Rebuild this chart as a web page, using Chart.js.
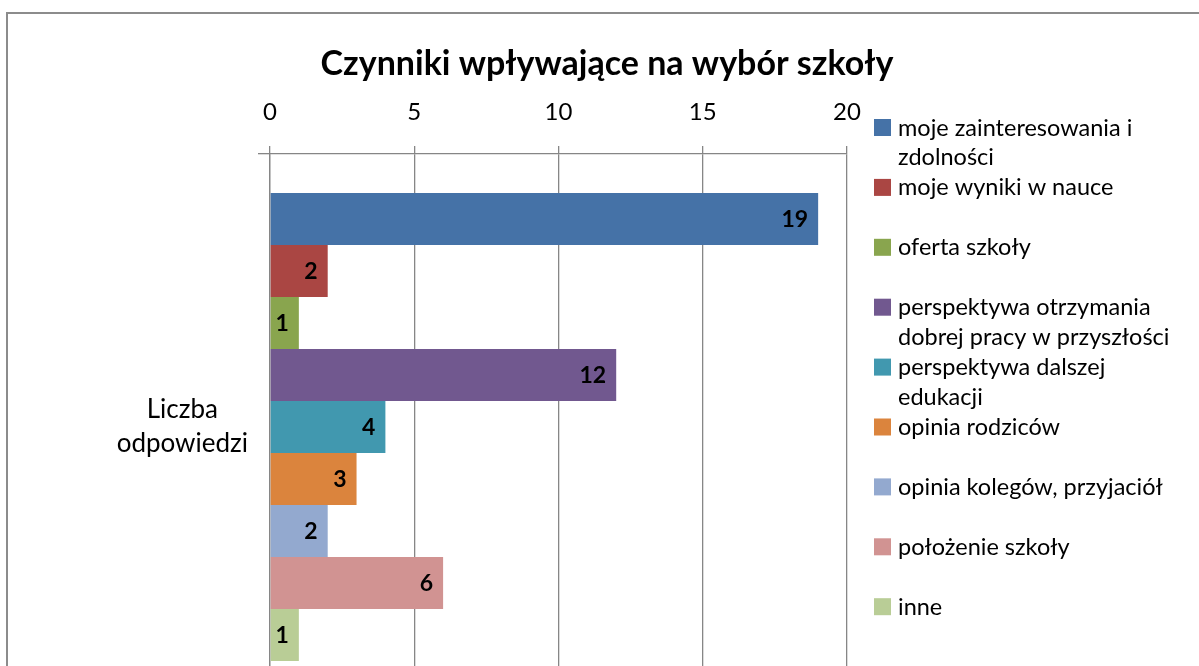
<!DOCTYPE html>
<html lang="pl">
<head>
<meta charset="utf-8">
<script src="https://cdn.jsdelivr.net/npm/chart.js@4"></script>
<style>
  html, body { margin: 0; padding: 0; background: #fff; overflow: hidden; }
  #frame {
    position: absolute; left: 6px; top: 12px;
    width: 1300px; height: 800px;
    border-top: 2px solid #8c8c8c; border-left: 2px solid #8c8c8c;
  }
  #chart { position: absolute; left: 0; top: 0; }
</style>
</head>
<body>
<div id="frame"></div>
<canvas id="chart" width="1199" height="720"></canvas>
<script>
  // dane z wykresu
  const categories = [['Liczba', 'odpowiedzi']];
  const seriesNames = [
    'moje zainteresowania i\nzdolności',
    'moje wyniki w nauce',
    'oferta szkoły',
    'perspektywa otrzymania\ndobrej pracy w przyszłości',
    'perspektywa dalszej\nedukacji',
    'opinia rodziców',
    'opinia kolegów, przyjaciół',
    'położenie szkoły',
    'inne'
  ];
  const seriesValues = [19, 2, 1, 12, 4, 3, 2, 6, 1];
  const seriesColors = ['#4572A7', '#AA4643', '#89A54E', '#71588F', '#4198AF',
                        '#DB843D', '#93A9CF', '#D19392', '#B9CD96'];
  const xTicks = [0, 5, 10, 15, 20];
  const chartTitle = 'Czynniki wpływające na wybór szkoły';

  const FONT = 'Lato';

  // tytuł nad całym obszarem wykresu
  const topTitle = {
    id: 'topTitle',
    afterDraw(chart) {
      const ctx = chart.ctx;
      ctx.save();
      ctx.font = 'bold 34px ' + FONT;
      ctx.fillStyle = '#000';
      ctx.textAlign = 'center';
      ctx.textBaseline = 'middle';
      ctx.fillText(chartTitle, 607, 64);
      ctx.restore();
    }
  };

  // etykiety wartości przy końcu słupka
  const valueLabels = {
    id: 'valueLabels',
    afterDatasetsDraw(chart) {
      const ctx = chart.ctx;
      ctx.save();
      ctx.font = 'bold 23px ' + FONT;
      ctx.fillStyle = '#000';
      ctx.textAlign = 'right';
      ctx.textBaseline = 'middle';
      chart.data.datasets.forEach((ds, i) => {
        chart.getDatasetMeta(i).data.forEach((bar, j) => {
          ctx.fillText(String(ds.data[j]), bar.x - 10, bar.y + 1);
        });
      });
      ctx.restore();
    }
  };

  // legenda po prawej, z łamaniem wierszy
  const sideLegend = {
    id: 'sideLegend',
    afterDraw(chart) {
      const ctx = chart.ctx;
      const left = chart.chartArea.right + 27;
      const top = 127;
      const pitch = 59.9;
      ctx.save();
      ctx.font = '23.5px ' + FONT;
      ctx.textBaseline = 'middle';
      ctx.textAlign = 'left';
      chart.data.datasets.forEach((ds, i) => {
        const y = top + i * pitch;
        ctx.fillStyle = ds.backgroundColor;
        ctx.fillRect(left, y - 8, 17, 17);
        ctx.fillStyle = '#000';
        ds.label.split('\n').forEach((line, k) => {
          ctx.fillText(line, left + 24, y + 1 + k * 29.5);
        });
      });
      ctx.restore();
    }
  };

  const ctx = document.getElementById('chart').getContext('2d');
  const chart = new Chart(ctx, {
    type: 'bar',
    data: {
      labels: categories,
      datasets: seriesNames.map((name, i) => ({
        label: name,
        data: [seriesValues[i]],
        backgroundColor: seriesColors[i],
        borderWidth: 0,
        barPercentage: 1,
        categoryPercentage: 0.857
      }))
    },
    options: {
      indexAxis: 'y',
      responsive: false,
      animation: false,
      layout: { padding: { top: 81, right: 352, left: 0, bottom: 20 } },
      scales: {
        x: {
          position: 'top',
          min: 0,
          max: 20,
          afterBuildTicks(scale) { scale.ticks = xTicks.map(v => ({ value: v })); },
          afterFit(scale) { scale.height = 73; scale.paddingLeft = 0; scale.paddingRight = 0; },
          ticks: { font: { family: FONT, size: 24, lineHeight: 1.2 }, color: '#000', padding: 19 },
          grid: { color: '#868686', lineWidth: 1.3, tickLength: 8 },
          border: { color: '#868686', width: 1.3 }
        },
        y: {
          offset: true,
          afterFit(scale) { scale.width = 270; scale.paddingTop = 0; scale.paddingBottom = 0; },
          ticks: {
            font: { family: FONT, size: 26, lineHeight: 1.3 },
            color: '#000',
            crossAlign: 'center',
            padding: 10
          },
          grid: { offset: true, drawOnChartArea: false, color: '#868686', lineWidth: 1.3, tickLength: 12 },
          border: { color: '#868686', width: 1.3 }
        }
      },
      plugins: {
        legend: { display: false },
        tooltip: { enabled: false },
        title: { display: false }
      }
    },
    plugins: [valueLabels, sideLegend, topTitle]
  });
</script>
</body>
</html>
